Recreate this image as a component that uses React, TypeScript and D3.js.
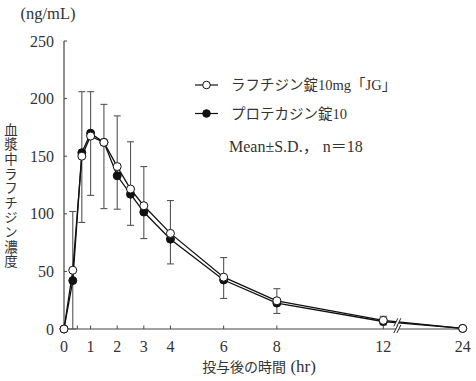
import React from "react";
import * as d3 from "d3";

const times = [0, 0.33, 0.67, 1, 1.5, 2, 2.5, 3, 4, 6, 8, 12, 24];
const testSeries = [0, 51, 150, 167.5, 162, 141, 121.5, 107, 83, 45, 24.5, 7.5, 0.5];
const refSeries = [0, 42, 153, 170, 162, 133, 117, 101.5, 78, 42.5, 22.5, 6.5, 0.5];
const errTop: (number | null)[] = [null, 102, 206, 206, 195, 185, 162.5, 141, 111.5, 62, 35, 11, null];
const errBottom: (number | null)[] = [null, 0, 92.5, 116, 104.5, 104, 90, 78.5, 56.5, 26.5, 13.5, 3.5, null];
const xTickValues = [0, 1, 2, 3, 4, 6, 8, 12, 24];
const xMinorTicks = [0.5];
const yTickValues = [0, 50, 100, 150, 200, 250];
const seriesNames = ["ラフチジン錠10mg「JG」", "プロテカジン錠10"];
const noteText = "Mean±S.D.， n＝18";
const yTitle = "血漿中ラフチジン濃度";
const xTitleJa = "投与後の時間";
const xTitleUnit = " (hr)";
const yUnit = "(ng/mL)";
const breakTime = 14.2;

const W = 476;
const H = 381;
const FONT = "'Liberation Serif', 'Noto Sans CJK JP', serif";
const JFONT = "'Noto Sans CJK JP', sans-serif";

export default function App() {
  const x = d3.scaleLinear().domain([0, 12, 24]).range([64, 383.3, 462.7]);
  const y = d3.scaleLinear().domain([0, 250]).range([329, 41]);
  const line = d3
    .line<number>()
    .x((_, i) => x(times[i]))
    .y((v) => y(v));

  const axisColor = "#444";
  const bx = x(breakTime);
  const interp = (arr: number[]) => {
    const v = arr[11] + ((breakTime - 12) / 12) * (arr[12] - arr[11]);
    return y(v);
  };
  const slash = (cx: number, cy: number, key: string) => (
    <g key={key}>
      <polygon
        points={`${cx - 4},${cy + 4} ${cx},${cy - 4} ${cx + 3},${cy - 4} ${cx - 1},${cy + 4}`}
        fill="white"
      />
      <line x1={cx - 4} y1={cy + 4} x2={cx} y2={cy - 4} stroke="#222" strokeWidth={1} />
      <line x1={cx - 1} y1={cy + 4} x2={cx + 3} y2={cy - 4} stroke="#222" strokeWidth={1} />
    </g>
  );

  return (
    <svg width={W} height={H} style={{ position: "absolute", left: 0, top: 0, background: "white" }}>
      <rect width={W} height={H} fill="white" />
      {/* axes */}
      <line x1={64} y1={y(250)} x2={64} y2={y(0)} stroke={axisColor} strokeWidth={1.2} />
      <line x1={64} y1={y(0)} x2={x(24)} y2={y(0)} stroke={axisColor} strokeWidth={1.2} />
      {yTickValues.map((t) => (
        <g key={"y" + t}>
          <line x1={64} x2={67} y1={y(t)} y2={y(t)} stroke={axisColor} strokeWidth={1} />
          <text x={54} y={y(t)} dy="0.35em" textAnchor="end" fontFamily={FONT} fontSize={16} fill="#333">
            {t}
          </text>
        </g>
      ))}
      {xTickValues.concat(xMinorTicks).map((t) => (
        <line key={"xt" + t} x1={x(t)} x2={x(t)} y1={y(0)} y2={y(0) - 3.5} stroke={axisColor} strokeWidth={1} />
      ))}
      {xTickValues.map((t) => (
        <text key={"xl" + t} x={x(t)} y={351.5} textAnchor="middle" fontFamily={FONT} fontSize={16} fill="#333">
          {t}
        </text>
      ))}
      {/* titles */}
      <text x={48} y={19} textAnchor="middle" fontFamily={FONT} fontSize={16.5} fill="#333">
        {yUnit}
      </text>
      <text
        x={11}
        y={196}
        textAnchor="middle"
        fontFamily={JFONT}
        fontSize={13.5}
        fill="#333"
        letterSpacing={1.1}
        style={{ writingMode: "vertical-rl", textOrientation: "upright" } as any}
      >
        {yTitle}
      </text>
      <text x={259} y={372} textAnchor="middle" fill="#333">
        <tspan fontFamily={JFONT} fontSize={14}>{xTitleJa}</tspan>
        <tspan fontFamily={FONT} fontSize={17}>{xTitleUnit}</tspan>
      </text>
      {/* error bars */}
      {times.map((t, i) => {
        const top = errTop[i];
        const bot = errBottom[i];
        if (top == null || bot == null) return null;
        const cx = x(t);
        return (
          <g key={"e" + i} stroke="#555" strokeWidth={1.1}>
            <line x1={cx} x2={cx} y1={y(top)} y2={y(bot)} />
            <line x1={cx - 3.5} x2={cx + 3.5} y1={y(top)} y2={y(top)} />
            <line x1={cx - 3.5} x2={cx + 3.5} y1={y(bot)} y2={y(bot)} />
          </g>
        );
      })}
      {/* lines */}
      <path d={line(refSeries) || ""} fill="none" stroke="#111" strokeWidth={1.3} />
      <path d={line(testSeries) || ""} fill="none" stroke="#111" strokeWidth={1.3} />
      {/* breaks */}
      {slash(bx, y(0), "b0")}
      {slash(bx, (interp(testSeries) + interp(refSeries)) / 2, "b1")}
      {/* markers */}
      {refSeries.map((v, i) => (
        <circle key={"r" + i} cx={x(times[i])} cy={y(v)} r={4} fill="#111" stroke="#111" strokeWidth={1} />
      ))}
      {testSeries.map((v, i) => (
        <circle key={"t" + i} cx={x(times[i])} cy={y(v)} r={4} fill="white" stroke="#111" strokeWidth={1} />
      ))}
      {/* legend */}
      <g>
        <line x1={195} x2={218} y1={85} y2={85} stroke="#111" strokeWidth={1.2} />
        <circle cx={206.5} cy={85} r={3.8} fill="white" stroke="#111" strokeWidth={1} />
        <text x={231} y={85} dy="0.36em" fontFamily={FONT} fontSize={14.5} fill="#333">
          {seriesNames[0]}
        </text>
        <line x1={195} x2={218} y1={113.5} y2={113.5} stroke="#111" strokeWidth={1.2} />
        <circle cx={206.5} cy={113.5} r={3.8} fill="#111" stroke="#111" strokeWidth={1} />
        <text x={231} y={113.5} dy="0.36em" fontFamily={FONT} fontSize={14.5} fill="#333">
          {seriesNames[1]}
        </text>
        <text x={229} y={146} dy="0.36em" fontFamily={FONT} fontSize={16} fill="#333">
          {noteText}
        </text>
      </g>
    </svg>
  );
}
